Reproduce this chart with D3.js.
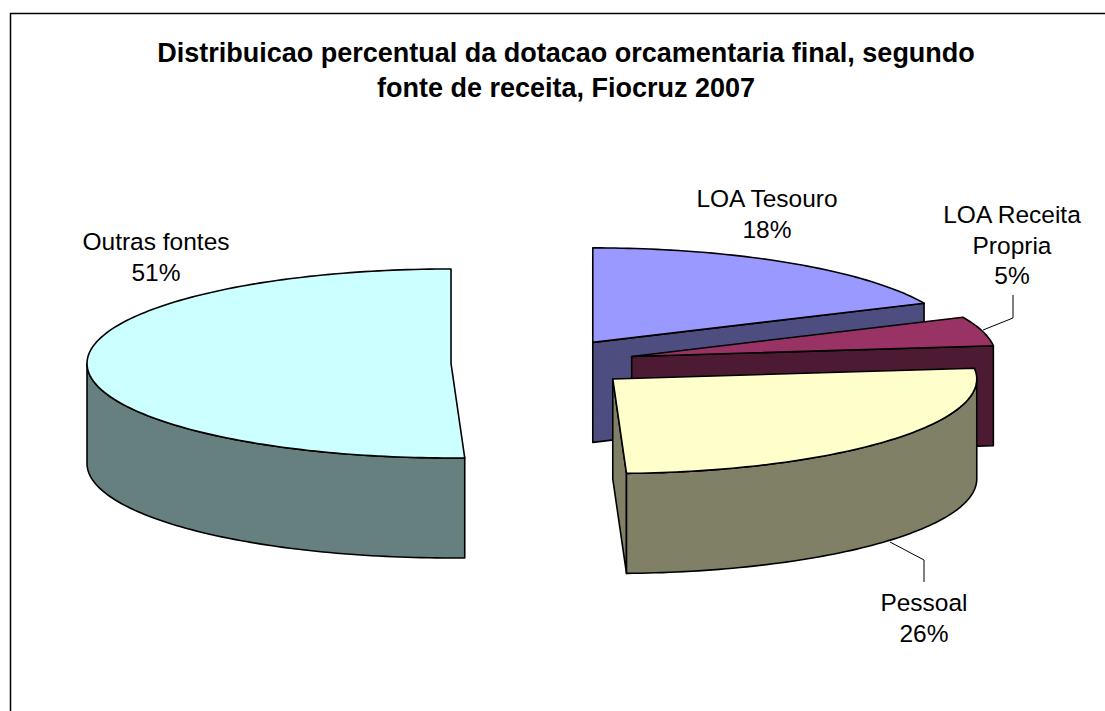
<!DOCTYPE html>
<html><head><meta charset="utf-8">
<style>html,body{margin:0;padding:0;background:#fff}svg{display:block}text{font-family:"Liberation Sans",Arial,sans-serif;fill:#000}</style>
<script src="https://cdn.jsdelivr.net/npm/d3@7"></script></head>
<body><svg id="c" width="1105" height="711"></svg>
<script>
const titleLines = ["Distribuicao percentual da dotacao orcamentaria final, segundo","fonte de receita, Fiocruz 2007"];
const categories = ["LOA Tesouro","LOA Receita Propria","Pessoal","Outras fontes"];
const values = [18.2,5.0,26.2,50.6];
const topColors = ["#9999FF","#993366","#FFFFCC","#CCFFFF"];
const sideColors = ["#4D4D80","#4D1A33","#808066","#668080"];
const labelLines = [["LOA Tesouro"],["LOA Receita","Propria"],["Pessoal"],["Outras fontes"]];
const labelPos = [[767,207],[1012,223],[924,611],[156,250]];
const leaders = [null,[[983,330],[1013,318],[1013,295]],[[890,542],[924,560],[924,582]],null];
const drawOrder = [0,1,3,2];

const svg = d3.select("#c");
const rx=364, ry=94.5, depth=100, cx0=543, cy0=363, ex=92, ey=24.5;
const fmt = d3.format(".0%");
const total = d3.sum(values);
const arcs = d3.pie().sort(null).value(d=>d)(values);

svg.append("rect").attr("x",10.5).attr("y",13.5).attr("width",1200).attr("height",800)
  .attr("fill","#fff").attr("stroke","#000").attr("stroke-width",1.5);

svg.append("g").selectAll("text").data(titleLines).join("text")
  .attr("x",566).attr("y",(d,i)=>62+i*34.5).attr("text-anchor","middle")
  .attr("font-size",27).attr("font-weight","bold").text(d=>d);

function pt(c,a,dz){return [c[0]+rx*Math.sin(a), c[1]-ry*Math.cos(a)+(dz||0)];}
function arcPts(c,a0,a1,dz){
  const n=Math.max(2,Math.ceil(Math.abs(a1-a0)/0.02)), s=d3.scaleLinear().domain([0,n]).range([a0,a1]);
  return d3.range(n+1).map(i=>pt(c,s(i),dz));
}
const line=d3.line();
const centers=arcs.map(a=>{const m=(a.startAngle+a.endAngle)/2;return [cx0+ex*Math.sin(m),cy0-ey*Math.cos(m)];});

const pies=svg.append("g").attr("stroke","#000").attr("stroke-width",1.6).attr("stroke-linejoin","round");
drawOrder.forEach(i=>{
  const a=arcs[i], c=centers[i], g=pies.append("g");
  const wall=(ang)=>{const p=pt(c,ang);return [c,p,[p[0],p[1]+depth],[c[0],c[1]+depth]];};
  if(Math.sin(a.endAngle)>1e-6) g.append("path").attr("d",line(wall(a.endAngle))+"Z").attr("fill",sideColors[i]);
  const lo=Math.max(a.startAngle,Math.PI/2), hi=Math.min(a.endAngle,1.5*Math.PI);
  if(hi>lo){
    const ptsT=arcPts(c,lo,hi,0), ptsB=arcPts(c,hi,lo,depth);
    g.append("path").attr("d",line(ptsT.concat(ptsB))+"Z").attr("fill",sideColors[i]);
  }
  g.append("path").attr("d",line([c].concat(arcPts(c,a.startAngle,a.endAngle,0)))+"Z").attr("fill",topColors[i]);
});

const lab=svg.append("g").attr("font-size",24.5).attr("text-anchor","middle");
categories.forEach((n,i)=>{
  const lines=labelLines[i].concat([fmt(values[i]/total)]);
  lab.append("g").selectAll("text").data(lines).join("text")
    .attr("x",labelPos[i][0]).attr("y",(d,k)=>labelPos[i][1]+k*30.5).text(d=>d);
  if(leaders[i]) svg.append("path").attr("d",line(leaders[i])).attr("fill","none").attr("stroke","#000").attr("stroke-width",1);
});
</script></body></html>
